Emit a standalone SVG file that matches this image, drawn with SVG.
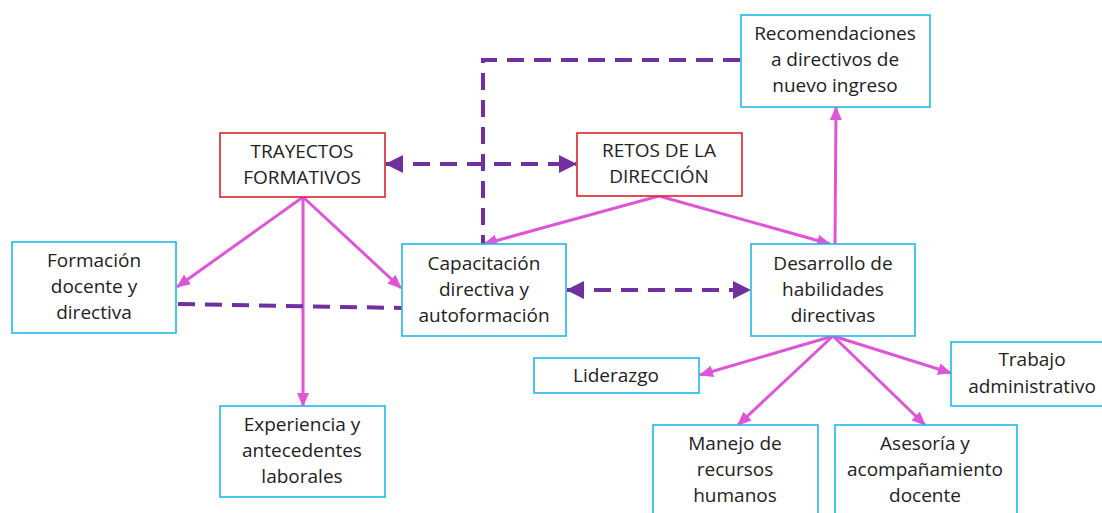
<svg xmlns="http://www.w3.org/2000/svg" width="1102" height="513" viewBox="0 0 1102 513">
<style>
.box{fill:#fff;stroke-width:1.6}
.red{stroke:#dc2228}
.blue{stroke:#1eb8ee}
text{font-family:"Open Sans","Noto Sans",sans-serif;font-size:19px;fill:#222;text-anchor:middle}
.pk{fill:none;stroke:#e055d8;stroke-width:3}
.pu{fill:none;stroke:#7030a0;stroke-width:4;stroke-dasharray:17 10}
</style>
<defs>
<marker id="mpk" markerUnits="userSpaceOnUse" markerWidth="14" markerHeight="12" refX="13" refY="6" orient="auto"><path d="M0,0 L14,6 L0,12 Z" fill="#e055d8"/></marker>
<marker id="mpu" markerUnits="userSpaceOnUse" markerWidth="18" markerHeight="18" refX="17" refY="9" orient="auto-start-reverse"><path d="M0,0 L18,9 L0,18 Z" fill="#7030a0"/></marker>
</defs>
<rect width="1102" height="513" fill="#fff"/>
<g id="connectors">
<line class="pk" x1="303" y1="197" x2="177" y2="287" marker-end="url(#mpk)"/>
<line class="pk" x1="303" y1="197" x2="401" y2="288" marker-end="url(#mpk)"/>
<line class="pk" x1="303" y1="197" x2="303" y2="406" marker-end="url(#mpk)"/>
<line class="pk" x1="659" y1="196" x2="484" y2="244" marker-end="url(#mpk)"/>
<line class="pk" x1="659" y1="196" x2="830" y2="244" marker-end="url(#mpk)"/>
<line class="pk" x1="835" y1="244" x2="836" y2="107" marker-end="url(#mpk)"/>
<line class="pk" x1="833" y1="336" x2="700" y2="375" marker-end="url(#mpk)"/>
<line class="pk" x1="833" y1="336" x2="738" y2="425" marker-end="url(#mpk)"/>
<line class="pk" x1="833" y1="336" x2="925" y2="425" marker-end="url(#mpk)"/>
<line class="pk" x1="833" y1="336" x2="951" y2="373" marker-end="url(#mpk)"/>
<line class="pu" x1="386" y1="164" x2="576" y2="164" marker-start="url(#mpu)" marker-end="url(#mpu)"/>
<line class="pu" x1="567" y1="290" x2="750" y2="290" marker-start="url(#mpu)" marker-end="url(#mpu)"/>
<line class="pu" x1="178" y1="304" x2="402" y2="308"/>
<polyline class="pu" points="740,60 483,60 483,244"/>
</g>
<g id="recomendaciones"><rect class="box blue" x="741" y="15" width="189" height="92"/><text x="835" y="40">Recomendaciones</text><text x="835" y="66">a directivos de</text><text x="835" y="92">nuevo ingreso</text></g>
<g id="trayectos"><rect class="box red" x="220" y="133" width="165" height="64"/><text x="302" y="158">TRAYECTOS</text><text x="302" y="184">FORMATIVOS</text></g>
<g id="retos"><rect class="box red" x="577" y="133" width="165" height="63"/><text x="659" y="157">RETOS DE LA</text><text x="659" y="183">DIRECCIÓN</text></g>
<g id="formacion"><rect class="box blue" x="12" y="242" width="164" height="91"/><text x="94" y="267">Formación</text><text x="94" y="293">docente y</text><text x="94" y="319">directiva</text></g>
<g id="capacitacion"><rect class="box blue" x="402" y="244" width="164" height="92"/><text x="484" y="270">Capacitación</text><text x="484" y="296">directiva y</text><text x="484" y="322">autoformación</text></g>
<g id="desarrollo"><rect class="box blue" x="751" y="244" width="164" height="92"/><text x="833" y="270">Desarrollo de</text><text x="833" y="296">habilidades</text><text x="833" y="322">directivas</text></g>
<g id="liderazgo"><rect class="box blue" x="534" y="358" width="165" height="35"/><text x="616" y="382">Liderazgo</text></g>
<g id="trabajo"><rect class="box blue" x="951" y="342" width="163" height="64"/><text x="1032" y="366">Trabajo</text><text x="1032" y="393">administrativo</text></g>
<g id="experiencia"><rect class="box blue" x="220" y="406" width="165" height="91"/><text x="302" y="431">Experiencia y</text><text x="302" y="457">antecedentes</text><text x="302" y="483">laborales</text></g>
<g id="manejo"><rect class="box blue" x="653" y="425" width="165" height="95"/><text x="735" y="450">Manejo de</text><text x="735" y="476">recursos</text><text x="735" y="502">humanos</text></g>
<g id="asesoria"><rect class="box blue" x="835" y="425" width="182" height="95"/><text x="925" y="450">Asesoría y</text><text x="925" y="476">acompañamiento</text><text x="925" y="502">docente</text></g>
</svg>
